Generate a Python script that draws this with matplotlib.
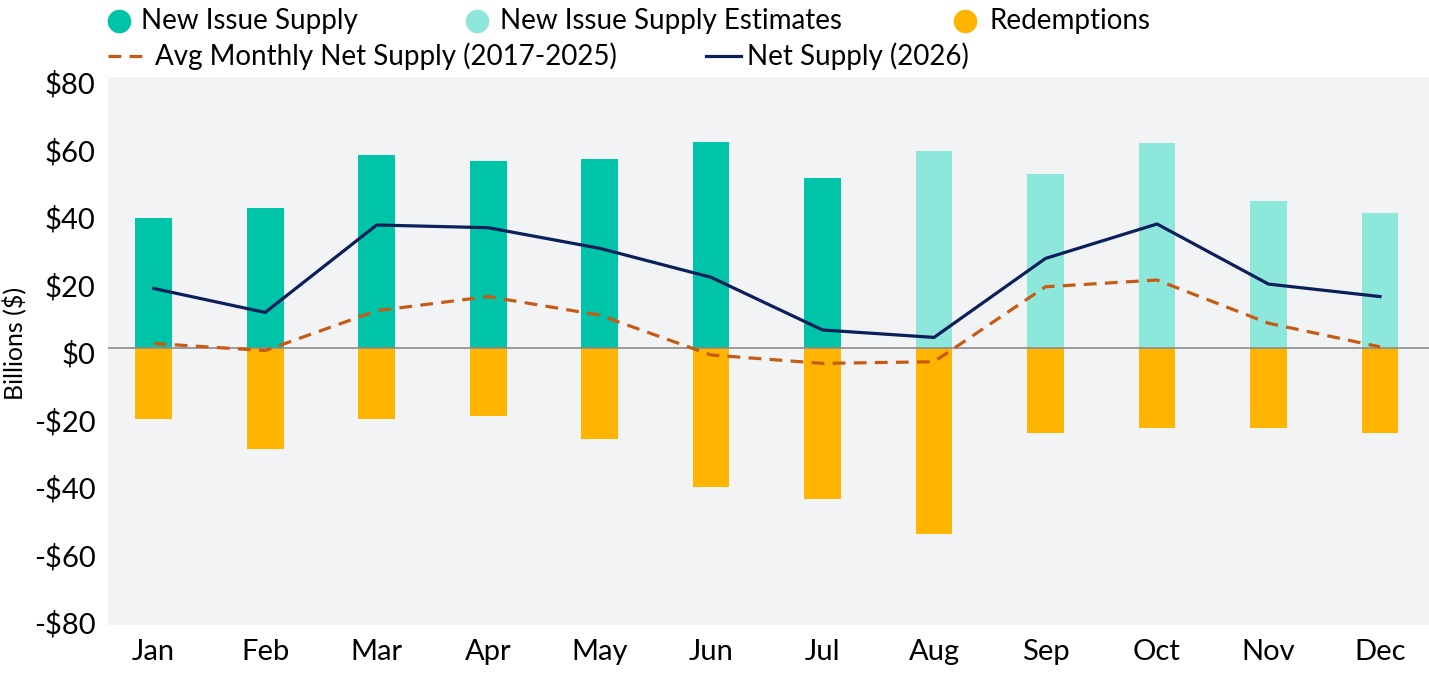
import matplotlib
matplotlib.use("Agg")
from matplotlib import pyplot as plt
from matplotlib.lines import Line2D
import matplotlib.transforms as mtransforms
import numpy as np

plt.rcParams['font.family'] = ['Lato', 'DejaVu Sans']

months = ['Jan', 'Feb', 'Mar', 'Apr', 'May', 'Jun', 'Jul', 'Aug', 'Sep', 'Oct', 'Nov', 'Dec']
# actual new issue supply (Jan-Jul) and estimates (Aug-Dec), $bn
new_issue = [38.4, 41.2, 57.0, 55.3, 56.0, 61.0, 50.1]
new_issue_est = [58.3, 51.3, 60.7, 43.4, 39.9]
redemptions = [-21.3, -30.0, -21.3, -20.2, -27.1, -41.2, -45.0, -55.1, -25.2, -23.9, -23.9, -25.2]
avg_net = [1.2, -0.9, 10.9, 15.1, 9.6, -2.2, -4.7, -4.2, 18.0, 20.0, 7.2, 0.2]
net_2026 = [17.5, 10.4, 36.3, 35.5, 29.4, 20.8, 5.2, 3.0, 26.4, 36.6, 18.8, 15.1]
yticks = [-80, -60, -40, -20, 0, 20, 40, 60, 80]

C_NEW = '#00C4A7'
C_EST = '#8DE7DA'
C_RED = '#FFB400'
C_AVG = '#C75B14'
C_NET = '#0B1F5B'
C_BG = '#F2F3F5'

W, H = 1429, 677
fig = plt.figure(figsize=(W / 100, H / 100), dpi=100)
ax = fig.add_axes([108 / W, 1 - 625 / H, (W - 108) / W, (625 - 77.5) / H])
ax.set_facecolor(C_BG)

x = np.arange(len(months))
n_act = len(new_issue)
bw = 0.33
ax.bar(x[:n_act], new_issue, width=bw, color=C_NEW, zorder=2)
ax.bar(x[n_act:], new_issue_est, width=bw, color=C_EST, zorder=2)
ax.bar(x, redemptions, width=bw, color=C_RED, zorder=2)
ax.axhline(0, color='#8C8C8C', lw=1.2, zorder=3)
ax.plot(x, avg_net, color=C_AVG, lw=2.3, dashes=(4, 2.6), zorder=4)
ax.plot(x, net_2026, color=C_NET, lw=2.3, zorder=5)

ax.set_xlim(-0.41, 11.44)
ax.set_ylim(-82.2, 80)
ax.set_xticks(x)
ax.set_xticklabels(months, fontsize=21)
ax.set_yticks(yticks)
ax.set_yticklabels([('-$%d' % -v) if v < 0 else ('$%d' % v) for v in yticks], fontsize=21)
ax.tick_params(axis='both', length=0)
ax.tick_params(axis='x', pad=10)
ax.tick_params(axis='y', pad=9)
for s in ax.spines.values():
    s.set_visible(False)

# labels in the reference sit a few px below their values
shift = mtransforms.ScaledTranslation(0, -5 / 100, fig.dpi_scale_trans)
for lab in ax.get_yticklabels():
    lab.set_transform(lab.get_transform() + shift)

fig.text(14 / W, 1 - 343 / H, 'Billions ($)', rotation=90, fontsize=18,
         ha='center', va='center')


# legend drawn by hand so items sit where the reference has them
def fx(px):
    return px / W


def fy(py):
    return 1 - py / H


def legend_dot(cx, cy, tx, color, label):
    fig.add_artist(Line2D([fx(cx)], [fy(cy)], marker='o', markersize=16,
                          color=color, linestyle='none', transform=fig.transFigure))
    fig.text(fx(tx), fy(cy + 9), label, fontsize=20, ha='left', va='baseline')


def legend_line(x0, x1, cy, tx, color, label, dashed=False):
    ln = Line2D([fx(x0), fx(x1)], [fy(cy), fy(cy)], color=color, lw=2.3,
                transform=fig.transFigure)
    if dashed:
        ln.set_dashes((4, 2.6))
    fig.add_artist(ln)
    fig.text(fx(tx), fy(cy + 9), label, fontsize=20, ha='left', va='baseline')


legend_dot(119, 20.5, 141, C_NEW, 'New Issue Supply')
legend_dot(477, 20.5, 500, C_EST, 'New Issue Supply Estimates')
legend_dot(965, 20.5, 989, C_RED, 'Redemptions')
legend_line(108, 145, 56, 155, C_AVG, 'Avg Monthly Net Supply (2017-2025)', dashed=True)
legend_line(706, 741, 56, 747, C_NET, 'Net Supply (2026)')

fig.savefig('out.png', dpi=100)
